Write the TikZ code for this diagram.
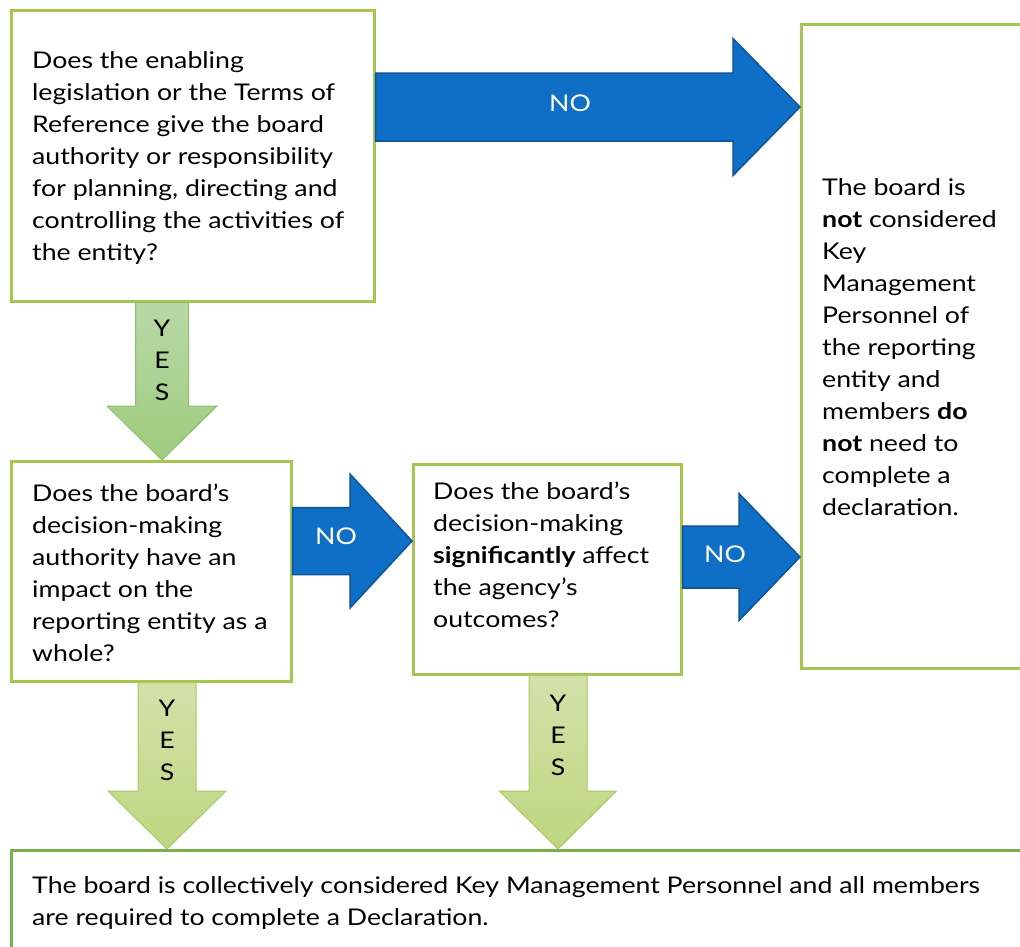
\documentclass[tikz,border=0pt]{standalone}
\usepackage{fontspec}
\setmainfont{Lato}[FakeStretch=1.16]
\usetikzlibrary{calc}
\definecolor{boxgreen}{RGB}{166,198,82}
\definecolor{bottomgreen}{RGB}{120,176,80}
\definecolor{nofill}{RGB}{15,111,198}
\definecolor{noedge}{RGB}{14,84,150}
\definecolor{yesAtop}{RGB}{184,217,166}
\definecolor{yesAbot}{RGB}{158,203,125}
\definecolor{yesAedge}{RGB}{140,190,110}
\definecolor{yesBtop}{RGB}{210,226,170}
\definecolor{yesBbot}{RGB}{190,214,128}
\definecolor{yesBedge}{RGB}{170,200,100}
\newcommand\fl{\rule{0pt}{24pt}}
\newcommand\harrow[6]{%
  \path[#1] let \p1=(#2), \p2=(#3) in
    (\x1,\y2+#4) -- (\x2-#6,\y2+#4) -- (\x2-#6,\y2+#5) -- (\x2,\y2)
    -- (\x2-#6,\y2-#5) -- (\x2-#6,\y2-#4) -- (\x1,\y2-#4) -- cycle;}
\newcommand\varrow[6]{%
  \path[#1] let \p1=(#2), \p2=(#3) in
    (\x2+#4,\y1) -- (\x2+#4,\y2+#6) -- (\x2+#5,\y2+#6) -- (\x2,\y2)
    -- (\x2-#5,\y2+#6) -- (\x2-#4,\y2+#6) -- (\x2-#4,\y1) -- cycle;}
\tikzset{
  box/.style={draw=boxgreen, line width=2.5pt, fill=white, rectangle, inner sep=0pt, anchor=north west},
  txt/.style={font=\fontsize{23}{32}\selectfont, align=left, inner sep=0pt, anchor=north west, text=black},
  noarrow/.style={fill=nofill, draw=noedge, line width=1.5pt, line join=miter},
  yesA/.style={top color=yesAtop, bottom color=yesAbot, draw=yesAedge, line width=1pt},
  yesB/.style={top color=yesBtop, bottom color=yesBbot, draw=yesBedge, line width=1pt},
  nolabel/.style={font=\fontsize{23}{28}\selectfont, text=white, inner sep=0pt, anchor=base},
  yeslabel/.style={font=\fontsize{23}{32}\selectfont, align=center, inner sep=0pt, anchor=north},
}
\begin{document}
\begin{tikzpicture}[x=1pt, y=-1pt]
\useasboundingbox (0,0) rectangle (1020,946);
\clip (0,0) rectangle (1020,946);
\fill[white] (0,0) rectangle (1020,946);
% boxes
\node[box, minimum width=363pt, minimum height=291pt] (q1) at (10,9) {};
\node[box, minimum width=280pt, minimum height=220pt] (q2) at (10,460) {};
\node[box, minimum width=268pt, minimum height=210pt] (q3) at (412,463) {};
\node[box, minimum width=260pt, minimum height=644pt] (r) at (800,23) {};
\node[box, draw=bottomgreen, minimum width=1040pt, minimum height=130pt] (f) at (10,849) {};
% texts
\node[txt] (q1t) at (32,44) {\fl Does the enabling\\legislation or the Terms of\\Reference give the board\\authority or responsibility\\for planning, directing and\\controlling the activities of\\the entity?};
\node[txt] (q2t) at (32,477) {\fl Does the board’s\\decision-making\\authority have an\\impact on the\\reporting entity as a\\whole?};
\node[txt] (q3t) at (433,475) {\fl Does the board’s\\decision-making\\\textbf{significantly} affect\\the agency’s\\outcomes?};
\node[txt] (rt) at (822,171) {\fl The board is\\\textbf{not} considered\\Key\\Management\\Personnel of\\the reporting\\entity and\\members \textbf{do}\\\textbf{not} need to\\complete a\\declaration.};
\node[txt] (ft) at (32,869) {\fl The board is collectively considered Key Management Personnel and all members\\are required to complete a Declaration.};
% NO arrows
\harrow{noarrow}{q1.east}{r.west |- 0,107}{34pt}{68.5pt}{67pt}
\harrow{noarrow}{q2.east}{q3.west |- 0,541}{33.5pt}{67pt}{62pt}
\harrow{noarrow}{q3.east}{r.west |- 0,557}{31pt}{63.5pt}{61pt}
\node[nolabel] (n1) at (570,111) {NO};
\node[nolabel] (n2) at (336,544) {NO};
\node[nolabel] (n3) at (725,562) {NO};
% YES arrows
\varrow{yesA}{q1.south -| 162,0}{q2.north -| 162,0}{26.5pt}{55pt}{54pt}
\varrow{yesB}{q2.south -| 167,0}{f.north -| 167,0}{29pt}{59pt}{58pt}
\varrow{yesB}{q3.south -| 558,0}{f.north -| 558,0}{29pt}{58.5pt}{58pt}
\node[yeslabel] (y1) at (162,312) {\fl Y\\E\\S};
\node[yeslabel] (y2) at (167,692) {\fl Y\\E\\S};
\node[yeslabel] (y3) at (558,687) {\fl Y\\E\\S};
\end{tikzpicture}
\end{document}
